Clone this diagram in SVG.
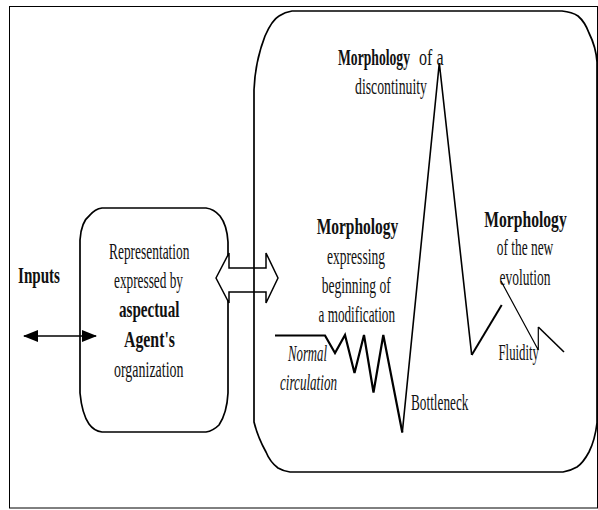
<svg xmlns="http://www.w3.org/2000/svg" width="598" height="510" viewBox="0 0 598 510">
<defs>
<style>
text{font-family:"Liberation Serif","Times New Roman",serif;font-size:22.5px;fill:#111}
.b{font-weight:bold}
.i{font-style:italic}
.box{fill:none;stroke:#000;stroke-width:1.7}
.ln{fill:none;stroke:#000;stroke-linejoin:miter}
</style>
<marker id="ah" viewBox="0 0 15 12" refX="14" refY="6" markerWidth="15" markerHeight="12" markerUnits="userSpaceOnUse" orient="auto-start-reverse">
<path d="M0,0 L15,6 L0,12 Z" fill="#000"/>
</marker>
</defs>
<rect x="9.5" y="6.5" width="588" height="501.5" fill="none" stroke="#000" stroke-width="1"/>

<g id="inputs">
<text class="b" x="18" y="283" textLength="42" lengthAdjust="spacingAndGlyphs">Inputs</text>
</g>

<g id="representation">
<path class="box" d="M80,393 L80,240 Q81,222 90,215 Q95,209 102,208 L206,208 Q214,209 220,216 Q227,225 228,242 L228,393 Q227,413 219,425 Q213,431 206,432 L102,432 Q94,431 89,424 Q82,414 80,393 Z"/>
<text x="109" y="259" textLength="80.5" lengthAdjust="spacingAndGlyphs">Representation</text>
<text x="114" y="288" textLength="69" lengthAdjust="spacingAndGlyphs">expressed by</text>
<text class="b" x="119" y="317" textLength="60.5" lengthAdjust="spacingAndGlyphs">aspectual</text>
<text class="b" x="124" y="347" textLength="51" lengthAdjust="spacingAndGlyphs">Agent's</text>
<text x="114" y="376.5" textLength="69.5" lengthAdjust="spacingAndGlyphs">organization</text>
</g>

<g id="connectors">
<line class="ln" x1="24" y1="336" x2="96" y2="336" stroke-width="1.5" marker-start="url(#ah)" marker-end="url(#ah)"/>
<polygon points="216,278 229,253 229,268 266,268 266,253 278,278 266,303 266,292 229,292 229,303" fill="#fff" stroke="#000" stroke-width="1.5"/>
</g>

<g id="morphology">
<path class="box" d="M254,422 L254,90 Q255,62 265,36 Q272,20 279,16 Q285,12 292,11 L562,11 Q572,12 578,16 Q585,22 589,33 Q596,47 597,62 L597,423 Q595,440 589,452 Q583,463 577,467 Q570,471 563,472 L290,472 Q283,471 278,468 Q270,462 266,452 Q258,438 254,422 Z"/>
<polyline class="ln" stroke-width="2.2" points="275,335.5 325,335.5 335,353 345,335 354.5,373 364,335 373.5,392.5 383.3,335 402.3,432.5"/>
<polyline class="ln" stroke-width="1.6" points="402.3,432.5 439.3,63 471.7,355"/>
<polyline class="ln" stroke-width="2" points="471.7,355 501.7,305"/>
<polyline class="ln" stroke-width="1.2" points="501,281 538.3,350 538.3,327"/>
<line class="ln" stroke-width="1.6" x1="538.3" y1="327" x2="564" y2="352"/>

<text class="b" x="338" y="65" textLength="72" lengthAdjust="spacingAndGlyphs">Morphology</text>
<text x="419" y="65" textLength="24.5" lengthAdjust="spacingAndGlyphs">of a</text>
<text x="355" y="94" textLength="72" lengthAdjust="spacingAndGlyphs">discontinuity</text>

<text class="b" x="316.7" y="233.5" textLength="81.6" lengthAdjust="spacingAndGlyphs">Morphology</text>
<text x="327" y="264" textLength="58" lengthAdjust="spacingAndGlyphs">expressing</text>
<text x="321.7" y="292.5" textLength="69" lengthAdjust="spacingAndGlyphs">beginning of</text>
<text x="318.5" y="321.7" textLength="76.5" lengthAdjust="spacingAndGlyphs">a modification</text>

<text class="i" x="288" y="361" textLength="39" lengthAdjust="spacingAndGlyphs">Normal</text>
<text class="i" x="280" y="390" textLength="57" lengthAdjust="spacingAndGlyphs">circulation</text>
<text x="411" y="409.5" textLength="57.5" lengthAdjust="spacingAndGlyphs">Bottleneck</text>

<text class="b" x="484.3" y="227" textLength="82.4" lengthAdjust="spacingAndGlyphs">Morphology</text>
<text x="496.7" y="255" textLength="56.6" lengthAdjust="spacingAndGlyphs">of  the new</text>
<text x="499.5" y="285" textLength="51" lengthAdjust="spacingAndGlyphs">evolution</text>
<text x="498.5" y="360" textLength="40.5" lengthAdjust="spacingAndGlyphs">Fluidity</text>
</g>
</svg>
